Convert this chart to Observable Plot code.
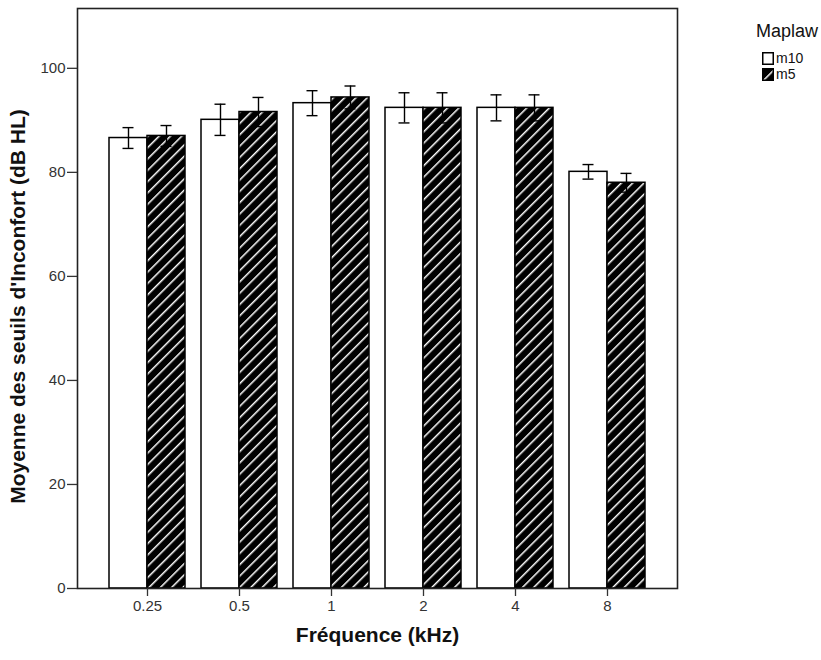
<!DOCTYPE html>
<html><head><meta charset="utf-8">
<script src="https://cdn.jsdelivr.net/npm/d3@7"></script>
<script src="https://cdn.jsdelivr.net/npm/@observablehq/plot@0.6"></script>
<style>
body{margin:0;background:#fff;font-family:"Liberation Sans",Arial,sans-serif}
#wrap{position:relative;width:821px;height:660px}
.lg{position:absolute;color:#111;white-space:nowrap}
</style></head>
<body>
<div id="wrap"><div id="chart"></div>
<div class="lg" style="left:756px;top:21px;font-size:18px;">Maplaw</div>
<div class="lg" style="left:762px;top:52px;font-size:14px;line-height:13px;display:flex;align-items:center;gap:2px">
<svg width="12" height="13"><rect x="0.75" y="0.75" width="10.5" height="11.5" fill="#fff" stroke="#000" stroke-width="1.5"/></svg><span>m10</span></div>
<div class="lg" style="left:762px;top:68px;font-size:14px;line-height:13px;display:flex;align-items:center;gap:2px">
<svg width="12" height="13"><defs><pattern id="hatchL" patternUnits="userSpaceOnUse" width="9" height="9" patternTransform="rotate(45)"><rect width="9" height="9" fill="#000"/><line x1="0" y1="0" x2="0" y2="9" stroke="#fff" stroke-width="3"/></pattern></defs><rect x="0.75" y="0.75" width="10.5" height="11.5" fill="url(#hatchL)" stroke="#000" stroke-width="1.5"/></svg><span>m5</span></div>
</div>
<script>
const freqs = ["0.25", "0.5", "1", "2", "4", "8"];
const m10 = [86.6, 90.1, 93.3, 92.4, 92.4, 80.1];
const m10err = [2.0, 3.0, 2.4, 2.9, 2.5, 1.4];
const m5 = [87.0, 91.6, 94.4, 92.4, 92.4, 78.0];
const m5err = [2.0, 2.8, 2.2, 2.9, 2.5, 1.8];
const yTicks = [0, 20, 40, 60, 80, 100];
const xTitle = "Fréquence (kHz)";
const yTitle = "Moyenne des seuils d'Inconfort (dB HL)";

const d10 = freqs.map((f, i) => ({freq: f, v: m10[i], lo: m10[i] - m10err[i], hi: m10[i] + m10err[i]}));
const d5 = freqs.map((f, i) => ({freq: f, v: m5[i], lo: m5[i] - m5err[i], hi: m5[i] + m5err[i]}));

function build(bw) {
  const half = bw / 2, q = bw / 4, cap = Math.max(0, (bw - 11) / 2);
  return Plot.plot({
    width: 821, height: 660,
    marginLeft: 77, marginRight: 144, marginTop: 8, marginBottom: 72,
    style: {fontFamily: "Liberation Sans, Arial, sans-serif", fontSize: "15px", background: "#fff", color: "#111"},
    x: {domain: freqs, type: "band", paddingInner: 0.17, paddingOuter: 0.316},
    y: {domain: [0, 111.5]},
    marks: [
      Plot.barY(d10, {x: "freq", y: "v", insetRight: half, fill: "#fff", stroke: "#000", strokeWidth: 1.5}),
      Plot.barY(d5, {x: "freq", y: "v", insetLeft: half, fill: "url(#hatch)", stroke: "#000", strokeWidth: 1.5}),
      Plot.ruleX(d10, {x: "freq", y1: "lo", y2: "hi", dx: -q, stroke: "#000", strokeWidth: 1.4}),
      Plot.ruleX(d5, {x: "freq", y1: "lo", y2: "hi", dx: q, stroke: "#000", strokeWidth: 1.4}),
      Plot.tickY(d10, {x: "freq", y: "hi", dx: -q, insetLeft: cap, insetRight: cap, stroke: "#000", strokeWidth: 1.4}),
      Plot.tickY(d10, {x: "freq", y: "lo", dx: -q, insetLeft: cap, insetRight: cap, stroke: "#000", strokeWidth: 1.4}),
      Plot.tickY(d5, {x: "freq", y: "hi", dx: q, insetLeft: cap, insetRight: cap, stroke: "#000", strokeWidth: 1.4}),
      Plot.tickY(d5, {x: "freq", y: "lo", dx: q, insetLeft: cap, insetRight: cap, stroke: "#000", strokeWidth: 1.4}),
      Plot.frame({stroke: "#222", strokeWidth: 1.6}),
      Plot.axisY({ticks: yTicks, tickSize: 10, tickPadding: 2, fontSize: 15, label: null, strokeWidth: 1.3, color: "#333"}),
      Plot.axisX({tickSize: 8, tickPadding: 4, fontSize: 15, label: null, strokeWidth: 1.3, color: "#333"}),
      Plot.text([xTitle], {frameAnchor: "bottom", lineAnchor: "middle", dy: 47, fontSize: 21, fontWeight: "bold", fill: "#111"}),
      Plot.text([yTitle], {frameAnchor: "left", textAnchor: "middle", lineAnchor: "middle", rotate: -90, dx: -59, dy: 8, fontSize: 21, fontWeight: "bold", fill: "#111"})
    ]
  });
}
const probe = build(0);
const bw = probe.scale("x").bandwidth;
const svg = build(bw);
const defs = d3.select(svg).insert("defs", ":first-child");
const pat = defs.append("pattern").attr("id", "hatch").attr("patternUnits", "userSpaceOnUse")
  .attr("width", 8).attr("height", 8).attr("patternTransform", "rotate(45)");
pat.append("rect").attr("width", 8).attr("height", 8).attr("fill", "#000");
pat.append("line").attr("x1", 0).attr("y1", 0).attr("x2", 0).attr("y2", 8).attr("stroke", "#fff").attr("stroke-width", 3);
document.getElementById("chart").appendChild(svg);
</script>
</body></html>
